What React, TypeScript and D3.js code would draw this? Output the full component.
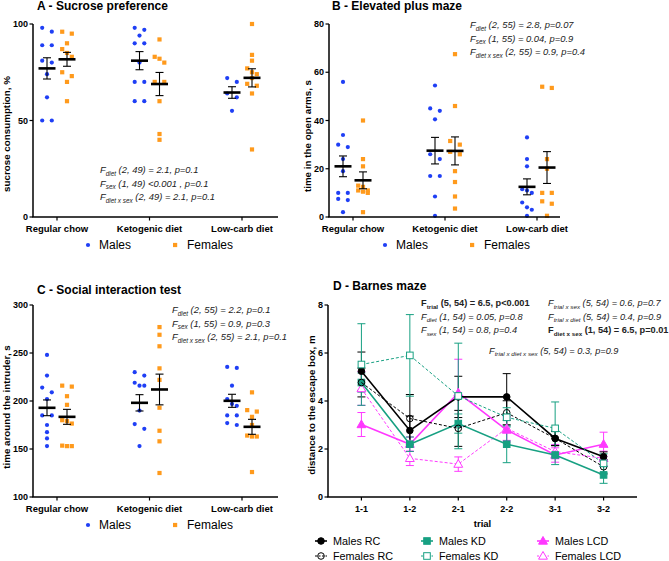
import React from "react";
import * as d3 from "d3";

const FONT = "'Liberation Sans', Arial, Helvetica, sans-serif";
const BLUE = "#1f3ff5";
const ORANGE = "#ff9a1c";
const TEAL = "#17a082";
const MAGENTA = "#ff38ff";

const diets = ["Regular chow", "Ketogenic diet", "Low-carb diet"];

// A - sucrose preference, %
const sucroseMales = [
  [98, 96, 89, 89, 81, 80, 74, 62, 50, 50],
  [98, 97, 94, 90, 90, 80, 70, 70, 60, 60],
  [72, 70, 64, 62, 55],
];
const sucroseFemales = [
  [96, 95, 90, 87, 85, 83, 75, 73, 70, 60],
  [92, 83, 82, 80, 70, 70, 60, 43, 40],
  [100, 84, 81, 77, 75, 74, 72, 69, 68, 64, 35],
];
const sucroseMeanM = [77, 81, 64.5];
const sucroseSemM = [5.5, 4.7, 3.0];
const sucroseMeanF = [81.7, 68.9, 72.1];
const sucroseSemF = [3.6, 6.0, 4.7];

// B - elevated plus maze, s
const epmMales = [
  [56, 34, 30, 29, 24, 19, 10, 10, 7.5, 7, 2],
  [54.5, 45, 44, 40.5, 26, 24, 17, 17, 8.5, 0.5],
  [33, 24, 21, 11.5, 11, 10, 6, 4, 3, 0.5],
];
const epmFemales = [
  [40, 24, 21, 13, 12.5, 11, 11, 10.5, 10, 2],
  [67.5, 46, 31.5, 30, 27, 26, 19, 14.5, 8.5, 3.5],
  [54, 53.5, 24, 20, 10, 10, 6.5, 5.5, 0.5],
];
const epmMeanM = [21, 27.5, 12.5];
const epmSemM = [4.3, 5.5, 3.3];
const epmMeanF = [15.2, 27.4, 20.5];
const epmSemF = [3.5, 5.8, 6.6];

// C - social interaction, s
const socialMales = [
  [248, 226.5, 214, 209, 202, 185, 185, 175, 167.5, 161, 153],
  [230, 226.5, 219, 216, 216, 190, 176, 171, 153],
  [235.5, 234.5, 216, 202, 197, 195, 185, 185, 177, 175],
];
const socialFemales = [
  [216, 215, 205, 196, 180, 179, 176.5, 153.5, 153, 153],
  [277, 269, 257, 234, 222, 193, 169, 158, 125],
  [209, 190.5, 189, 183.5, 175, 164, 163, 163, 126],
];
const socialMeanM = [192.9, 198.1, 200.2];
const socialSemM = [8.2, 8.5, 6.8];
const socialMeanF = [183.5, 212, 173.1];
const socialSemF = [7.8, 16, 7.8];

// D - Barnes maze, m
const trials = ["1-1", "1-2", "2-1", "2-2", "3-1", "3-2"];
const malesRC = [5.24, 2.77, 4.17, 4.17, 2.44, 1.68];
const malesRCsem = [0.8, 0.6, 0.86, 0.97, 0.3, 0.2];
const femalesRC = [4.77, 3.27, 2.86, 3.51, 2.44, 1.26];
const femalesRCsem = [0.6, 1.0, 0.75, 0.5, 0.3, 0.3];
const malesKD = [4.77, 2.2, 3.06, 2.2, 1.75, 0.92];
const malesKDsem = [0.4, 0.3, 0.4, 0.77, 0.4, 0.35];
const femalesKD = [5.52, 5.9, 4.21, 3.32, 2.86, 1.4];
const femalesKDsem = [1.7, 1.7, 2.2, 0.4, 1.1, 0.4];
const malesLCD = [3.02, 2.2, 4.34, 2.79, 1.75, 2.2];
const malesLCDsem = [0.5, 0.3, 1.4, 0.5, 0.3, 0.5];
const femalesLCD = [4.52, 1.61, 1.37, 2.86, 1.89, 1.61];
const femalesLCDsem = [0.7, 0.3, 0.3, 0.5, 0.3, 0.3];

const statsA = [
  { sub: "diet", rest: "(2, 49) = 2.1, p=0.1" },
  { sub: "sex", rest: "(1, 49) <0.001 , p=0.1" },
  { sub: "diet x sex", rest: "(2, 49) = 2.1, p=0.1" },
];
const statsB = [
  { sub: "diet", rest: "(2, 55) = 2.8, p=0.07" },
  { sub: "sex", rest: "(1, 55) = 0.04, p=0.9" },
  { sub: "diet x sex", rest: "(2, 55) = 0.9, p=0.4" },
];
const statsC = [
  { sub: "diet", rest: "(2, 55) = 2.2, p=0.1" },
  { sub: "sex", rest: "(1, 55) = 0.9, p=0.3" },
  { sub: "diet x sex", rest: "(2, 55) = 2.1, p=0.1" },
];
const statsDleft = [
  { sub: "trial", rest: "(5, 54) = 6.5, p<0.001", bold: true },
  { sub: "diet", rest: "(1, 54) = 0.05, p=0.8" },
  { sub: "sex", rest: "(1, 54) = 0.8, p=0.4" },
];
const statsDright = [
  { sub: "trial x sex", rest: "(5, 54) = 0.6, p=0.7" },
  { sub: "trial x diet", rest: "(5, 54) = 0.4, p=0.9" },
  { sub: "diet x sex", rest: "(1, 54) = 6.5, p=0.01", bold: true },
];
const statsDlast = { sub: "trial  x diet x sex", rest: "(5, 54) = 0.3, p=0.9" };

type StatLine = { sub: string; rest: string; bold?: boolean };

function Stat({ x, y, s, size = 9.4 }: { x: number; y: number; s: StatLine; size?: number }) {
  return (
    <text
      x={x}
      y={y}
      fontSize={size}
      fontStyle={s.bold ? "normal" : "italic"}
      fontWeight={s.bold ? "bold" : "normal"}
      fill="#222"
    >
      F
      <tspan fontSize={size * 0.68} dy={2.5}>
        {s.sub}
      </tspan>
      <tspan dy={-2.5}>{" " + s.rest}</tspan>
    </text>
  );
}

// simple beeswarm: neighbours closer than thr px are spread sideways
function swarm(vals: number[], y: (v: number) => number, d: number, thr: number) {
  const pts = vals.map((v) => ({ py: y(v), off: 0 })).sort((a, b) => a.py - b.py);
  let i = 0;
  while (i < pts.length) {
    let j = i + 1;
    while (j < pts.length && j - i < 3 && pts[j].py - pts[j - 1].py < thr) j++;
    const n = j - i;
    if (n === 2) {
      pts[i].off = -d;
      pts[i + 1].off = d;
    } else if (n === 3) {
      pts[i].off = -d;
      pts[i + 1].off = 0;
      pts[i + 2].off = d;
    }
    i = j;
  }
  return pts;
}

type PanelProps = {
  title: string;
  titleX: number;
  titleY: number;
  left: number;
  right: number;
  top: number;
  bottom: number;
  catRange: [number, number];
  domain: [number, number];
  ticks: number[];
  yLabel: string;
  yLabelX: number;
  yLabelY: number;
  males: number[][];
  females: number[][];
  meanM: number[];
  semM: number[];
  meanF: number[];
  semF: number[];
  stats: StatLine[];
  statsX: number;
  statsY: number;
  legendX: number;
};

function DotPanel(p: PanelProps) {
  const y = d3.scaleLinear().domain(p.domain).range([p.bottom, p.top]);
  const x = d3.scalePoint<string>().domain(diets).range(p.catRange);
  const off = 10;

  const meanBar = (cx: number, m: number, s: number) => (
    <g stroke="#000">
      <line x1={cx} x2={cx} y1={y(m - s)} y2={y(m + s)} strokeWidth={1.1} />
      <line x1={cx - 4} x2={cx + 4} y1={y(m + s)} y2={y(m + s)} strokeWidth={1.1} />
      <line x1={cx - 4} x2={cx + 4} y1={y(m - s)} y2={y(m - s)} strokeWidth={1.1} />
      <line x1={cx - 8.5} x2={cx + 8.5} y1={y(m)} y2={y(m)} strokeWidth={2.6} />
    </g>
  );

  return (
    <g>
      <text x={p.titleX} y={p.titleY} fontWeight="bold" fontSize={12}>
        {p.title}
      </text>
      {/* points */}
      {diets.map((d, i) => {
        const cm = (x(d) as number) - off;
        const cf = (x(d) as number) + off;
        return (
          <g key={d}>
            {swarm(p.males[i], y, 4.8, 5).map((pt, k) => (
              <circle key={"m" + k} cx={cm + pt.off} cy={pt.py} r={2.1} fill={BLUE} />
            ))}
            {swarm(p.females[i], y, 4.8, 5).map((pt, k) => (
              <rect key={"f" + k} x={cf + pt.off - 2.1} y={pt.py - 2.1} width={4.2} height={4.2} fill={ORANGE} />
            ))}
            {meanBar(cm, p.meanM[i], p.semM[i])}
            {meanBar(cf, p.meanF[i], p.semF[i])}
          </g>
        );
      })}
      {/* axes */}
      <g stroke="#000" strokeWidth={1.5}>
        <line x1={p.left} x2={p.left} y1={p.top} y2={p.bottom} />
        <line x1={p.left - 0.75} x2={p.right} y1={p.bottom} y2={p.bottom} />
      </g>
      {p.ticks.map((t) => (
        <g key={t}>
          <line x1={p.left - 3.5} x2={p.left} y1={y(t)} y2={y(t)} stroke="#000" strokeWidth={1.2} />
          <text x={p.left - 5} y={y(t)} dy="0.35em" textAnchor="end" fontSize={9} fontWeight="bold">
            {t}
          </text>
        </g>
      ))}
      {diets.map((d) => (
        <g key={d}>
          <line x1={x(d)} x2={x(d)} y1={p.bottom} y2={p.bottom + 3.5} stroke="#000" strokeWidth={1.2} />
          <text x={x(d)} y={p.bottom + 14.5} textAnchor="middle" fontSize={9.5} fontWeight="bold">
            {d}
          </text>
        </g>
      ))}
      <text
        transform={`translate(${p.yLabelX},${p.yLabelY}) rotate(-90)`}
        textAnchor="middle"
        dy="0.35em"
        fontSize={9.8}
        fontWeight="bold"
      >
        {p.yLabel}
      </text>
      {p.stats.map((s, i) => (
        <Stat key={i} x={p.statsX} y={p.statsY + i * 13.5} s={s} />
      ))}
      {/* legend */}
      <g transform={`translate(${p.legendX},${p.bottom + 28})`}>
        <circle cx={0} cy={0} r={2.1} fill={BLUE} />
        <text x={11} y={0} dy="0.35em" fontSize={12}>
          Males
        </text>
        <rect x={85} y={-2.1} width={4.2} height={4.2} fill={ORANGE} />
        <text x={99} y={0} dy="0.35em" fontSize={12}>
          Females
        </text>
      </g>
    </g>
  );
}

type Series = {
  name: string;
  vals: number[];
  sem: number[];
  color: string;
  dashed: boolean;
  shape: "circle" | "square" | "triangle";
  open: boolean;
};

const barnesSeries: Series[] = [
  { name: "Females LCD", vals: femalesLCD, sem: femalesLCDsem, color: MAGENTA, dashed: true, shape: "triangle", open: true },
  { name: "Males LCD", vals: malesLCD, sem: malesLCDsem, color: MAGENTA, dashed: false, shape: "triangle", open: false },
  { name: "Males KD", vals: malesKD, sem: malesKDsem, color: TEAL, dashed: false, shape: "square", open: false },
  { name: "Females RC", vals: femalesRC, sem: femalesRCsem, color: "#000", dashed: true, shape: "circle", open: true },
  { name: "Males RC", vals: malesRC, sem: malesRCsem, color: "#000", dashed: false, shape: "circle", open: false },
  { name: "Females KD", vals: femalesKD, sem: femalesKDsem, color: TEAL, dashed: true, shape: "square", open: true },
];

function Marker({ s, cx, cy }: { s: Series; cx: number; cy: number }) {
  const fill = s.open ? (s.shape === "circle" ? "none" : "#fff") : s.color;
  if (s.shape === "circle")
    return <circle cx={cx} cy={cy} r={3.3} fill={fill} stroke={s.color} strokeWidth={1} />;
  if (s.shape === "square")
    return <rect x={cx - 3.3} y={cy - 3.3} width={6.6} height={6.6} fill={fill} stroke={s.color} strokeWidth={1} />;
  const path = d3.symbol(d3.symbolTriangle, 34)() as string;
  return (
    <path d={path} transform={`translate(${cx},${cy + 0.6})`} fill={fill} stroke={s.color} strokeWidth={1} />
  );
}

function BarnesPanel() {
  const left = 328,
    right = 637,
    top = 305,
    bottom = 497;
  const x = d3.scalePoint<string>().domain(trials).range([left, right]).padding(0.69);
  const y = d3.scaleLinear().domain([0, 8]).range([bottom, top]);
  const line = d3
    .line<number>()
    .x((_, i) => x(trials[i]) as number)
    .y((v) => y(v));

  const legendCols = [
    { x: 321, items: ["Males RC", "Females RC"] },
    { x: 427, items: ["Males KD", "Females KD"] },
    { x: 543, items: ["Males LCD", "Females LCD"] },
  ];

  return (
    <g>
      <text x={333} y={289.5} fontWeight="bold" fontSize={12}>
        D - Barnes maze
      </text>
      {barnesSeries.map((s) => (
        <g key={s.name}>
          {s.vals.map((v, i) => {
            const cx = x(trials[i]) as number;
            return (
              <g key={i} stroke={s.color} strokeWidth={1}>
                <line x1={cx} x2={cx} y1={y(v - s.sem[i])} y2={y(v + s.sem[i])} />
                <line x1={cx - 4} x2={cx + 4} y1={y(v + s.sem[i])} y2={y(v + s.sem[i])} />
                <line x1={cx - 4} x2={cx + 4} y1={y(v - s.sem[i])} y2={y(v - s.sem[i])} />
              </g>
            );
          })}
        </g>
      ))}
      {barnesSeries.map((s) => (
        <g key={s.name}>
          <path
            d={line(s.vals) as string}
            fill="none"
            stroke={s.color}
            strokeWidth={s.dashed ? 1 : 1.6}
            strokeDasharray={s.dashed ? "3,2" : undefined}
          />
          {s.vals.map((v, i) => (
            <Marker key={i} s={s} cx={x(trials[i]) as number} cy={y(v)} />
          ))}
        </g>
      ))}
      <g stroke="#000" strokeWidth={1.5}>
        <line x1={left} x2={left} y1={top} y2={bottom} />
        <line x1={left - 0.75} x2={right} y1={bottom} y2={bottom} />
      </g>
      {[0, 2, 4, 6, 8].map((t) => (
        <g key={t}>
          <line x1={left - 3.5} x2={left} y1={y(t)} y2={y(t)} stroke="#000" strokeWidth={1.2} />
          <text x={left - 5} y={y(t)} dy="0.35em" textAnchor="end" fontSize={9} fontWeight="bold">
            {t}
          </text>
        </g>
      ))}
      {trials.map((t) => (
        <g key={t}>
          <line x1={x(t)} x2={x(t)} y1={bottom} y2={bottom + 3.5} stroke="#000" strokeWidth={1.2} />
          <text x={x(t)} y={bottom + 15} textAnchor="middle" fontSize={9} fontWeight="bold">
            {t}
          </text>
        </g>
      ))}
      <text x={(left + right) / 2} y={527} textAnchor="middle" fontSize={9.5} fontWeight="bold">
        trial
      </text>
      <text
        transform={`translate(312,405) rotate(-90)`}
        textAnchor="middle"
        dy="0.35em"
        fontSize={9.8}
        fontWeight="bold"
      >
        distance to the escape box, m
      </text>
      {statsDleft.map((s, i) => (
        <Stat key={"l" + i} x={421} y={306 + i * 13.7} s={s} size={9.2} />
      ))}
      {statsDright.map((s, i) => (
        <Stat key={"r" + i} x={548} y={306 + i * 13.7} s={s} size={9.2} />
      ))}
      <Stat x={489} y={353.5} s={statsDlast} size={9.2} />
      {legendCols.map((col) =>
        col.items.map((name, r) => {
          const s = barnesSeries.find((d) => d.name === name) as Series;
          const cy = 541 + r * 15;
          return (
            <g key={name}>
              <line
                x1={col.x - 6}
                x2={col.x + 6}
                y1={cy}
                y2={cy}
                stroke={s.color}
                strokeWidth={s.dashed ? 1 : 1.6}
                strokeDasharray={s.dashed ? "2,1.5" : undefined}
              />
              <Marker s={s} cx={col.x} cy={cy} />
              <text x={col.x + 12} y={cy} dy="0.35em" fontSize={10.8}>
                {name}
              </text>
            </g>
          );
        })
      )}
    </g>
  );
}

export default function App() {
  return (
    <svg
      width={669}
      height={561}
      style={{ position: "absolute", left: 0, top: 0, background: "#fff", fontFamily: FONT }}
    >
      <rect width={669} height={561} fill="#fff" />
      <DotPanel
        title="A - Sucrose preference"
        titleX={37}
        titleY={9.5}
        left={33}
        right={278}
        top={24}
        bottom={217}
        catRange={[57, 242]}
        domain={[0, 100]}
        ticks={[0, 50, 100]}
        yLabel="sucrose consumption, %"
        yLabelX={7}
        yLabelY={134}
        males={sucroseMales}
        females={sucroseFemales}
        meanM={sucroseMeanM}
        semM={sucroseSemM}
        meanF={sucroseMeanF}
        semF={sucroseSemF}
        stats={statsA}
        statsX={100}
        statsY={173}
        legendX={88}
      />
      <DotPanel
        title="B - Elevated plus maze"
        titleX={332}
        titleY={9.5}
        left={329}
        right={560}
        top={24}
        bottom={217}
        catRange={[353, 537]}
        domain={[0, 80]}
        ticks={[0, 20, 40, 60, 80]}
        yLabel="time in the open arms, s"
        yLabelX={308}
        yLabelY={136}
        males={epmMales}
        females={epmFemales}
        meanM={epmMeanM}
        semM={epmSemM}
        meanF={epmMeanF}
        semF={epmSemF}
        stats={statsB}
        statsX={470}
        statsY={28}
        legendX={385}
      />
      <DotPanel
        title="C - Social interaction test"
        titleX={37}
        titleY={293.5}
        left={33}
        right={278}
        top={305}
        bottom={497}
        catRange={[57, 242]}
        domain={[100, 300]}
        ticks={[100, 150, 200, 250, 300]}
        yLabel="time around the intruder, s"
        yLabelX={7}
        yLabelY={407}
        males={socialMales}
        females={socialFemales}
        meanM={socialMeanM}
        semM={socialSemM}
        meanF={socialMeanF}
        semF={socialSemF}
        stats={statsC}
        statsX={172}
        statsY={313}
        legendX={88}
      />
      <BarnesPanel />
    </svg>
  );
}
